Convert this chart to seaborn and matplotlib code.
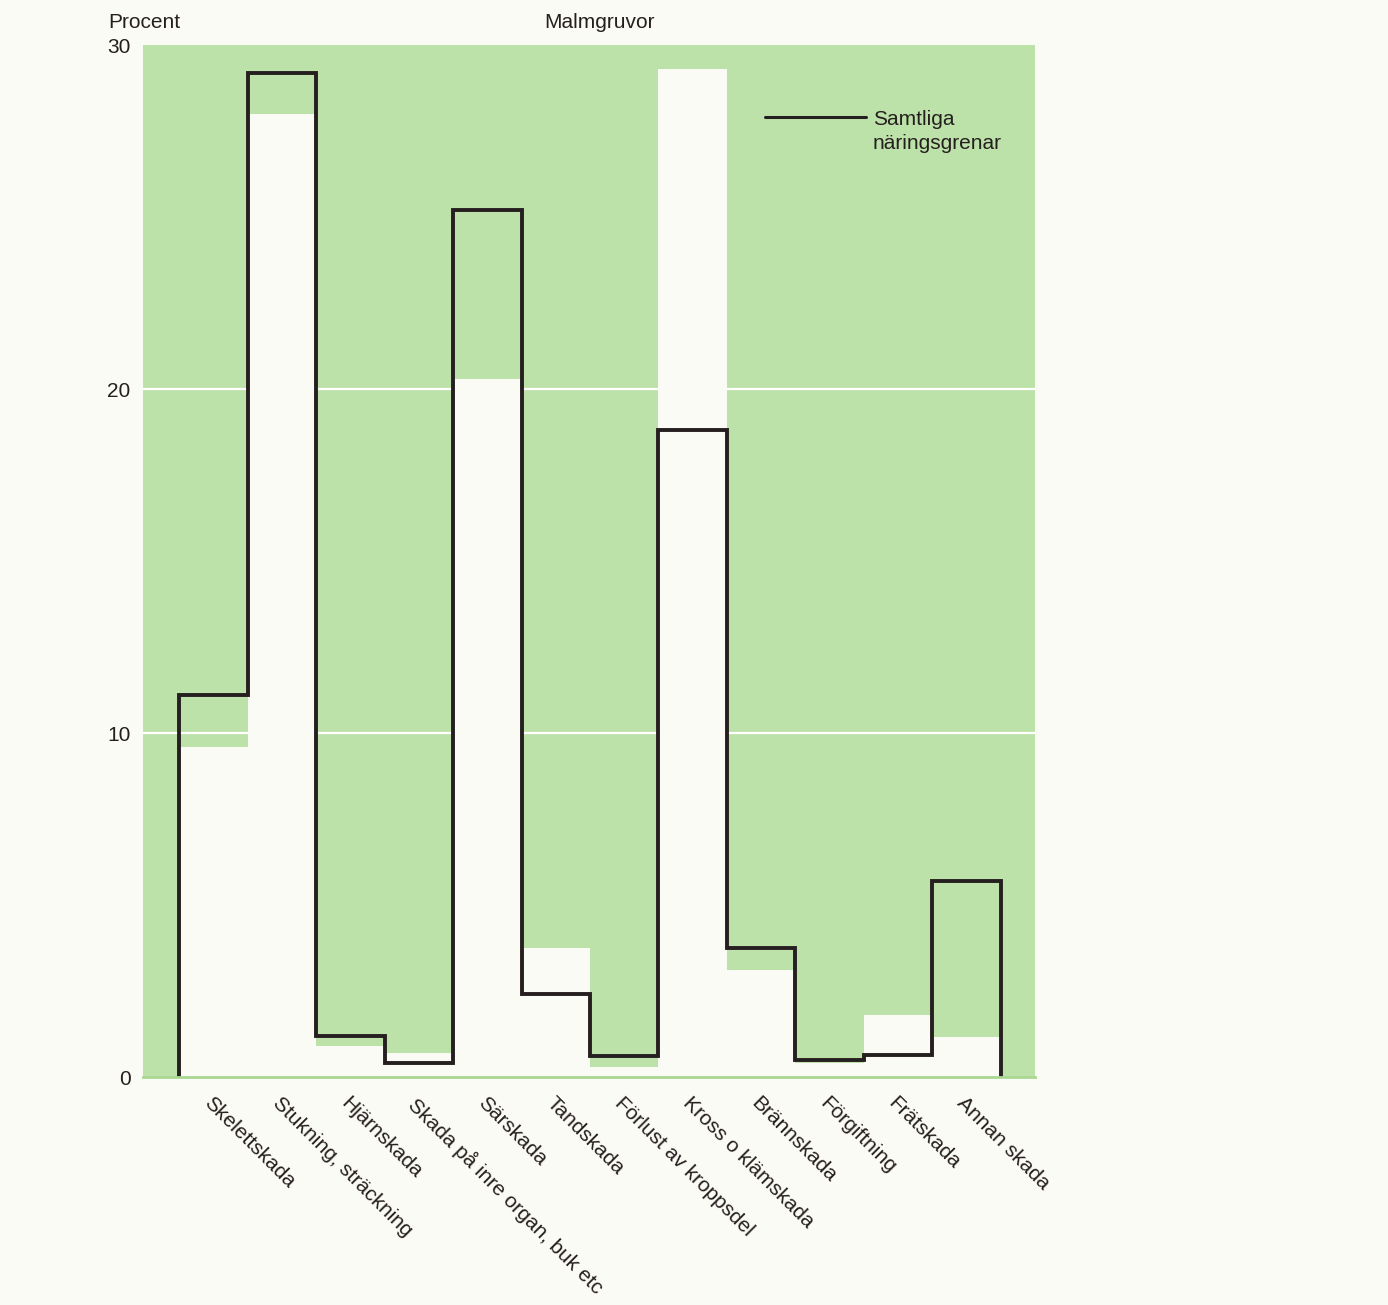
import numpy as np
import pandas as pd
import matplotlib
matplotlib.use('Agg')
import matplotlib.pyplot as plt
import seaborn as sns

# Skadetyp, procent
categories = ['Skelettskada', 'Stukning, sträckning', 'Hjärnskada',
              'Skada på inre organ, buk etc', 'Särskada', 'Tandskada',
              'Förlust av kroppsdel', 'Kross o klämskada', 'Brännskada',
              'Förgiftning', 'Frätskada', 'Annan skada']
malmgruvor = [9.6, 28.0, 0.9, 0.7, 20.3, 3.75, 0.3, 29.3, 3.1, 0.4, 1.8, 1.15]
samtliga = [11.1, 29.2, 1.2, 0.4, 25.2, 2.4, 0.6, 18.8, 3.75, 0.5, 0.65, 5.7]
yticks = [0, 10, 20, 30]

green = '#bde2a9'
paper = '#fbfbf6'
ink = '#261f1f'

sns.set_theme(style='white')
plt.rcParams['font.family'] = ['Liberation Sans', 'DejaVu Sans']

df = pd.DataFrame({'skada': categories, 'procent': malmgruvor})

fig = plt.figure(figsize=(13.88, 13.05), dpi=100, facecolor=paper)
ax = fig.add_axes([0.103, 0.1747, 0.6427, 0.7908])
ax.set_facecolor(green)

sns.barplot(data=df, x='skada', y='procent', color=paper, width=1.0,
            saturation=1, linewidth=0, ax=ax, zorder=2)

# Samtliga näringsgrenar som trappstegslinje
edges = np.arange(len(categories) + 1) - 0.5
ax.stairs(samtliga, edges, baseline=0, color=ink, lw=2.8, zorder=3)

ax.set_xlim(-1.03, len(categories))
ax.set_ylim(0, 30)
ax.set_yticks(yticks)
ax.set_yticklabels([str(t) for t in yticks], fontsize=15, color=ink)
ax.tick_params(axis='y', length=0, pad=9)
for t in yticks[1:-1]:
    ax.axhline(t, color='white', lw=1.6, zorder=1)

ax.set_xticks(range(len(categories)))
ax.set_xticklabels(categories, rotation=-45, ha='left', va='top',
                   rotation_mode='anchor', fontsize=15, color=ink)
ax.tick_params(axis='x', length=0, pad=12)
ax.set_xlabel('')
ax.set_ylabel('')

for side in ['top', 'left', 'right']:
    ax.spines[side].set_visible(False)
ax.spines['bottom'].set_color('#a9d893')
ax.spines['bottom'].set_linewidth(2)
ax.spines['bottom'].set_zorder(4)

# legend
ax.plot([0.697, 0.8105], [0.930, 0.930], transform=ax.transAxes,
        color=ink, lw=2.2, zorder=5)
ax.text(0.818, 0.937, 'Samtliga\nnäringsgrenar', transform=ax.transAxes,
        ha='left', va='top', fontsize=15, color=ink, linespacing=1.35)

fig.text(108 / 1388, 1 - 22 / 1305, 'Procent', ha='left', va='center',
         fontsize=15, color=ink)
fig.text(600 / 1388, 1 - 22 / 1305, 'Malmgruvor', ha='center', va='center',
         fontsize=15, color=ink)

fig.savefig('out.png', dpi=100, facecolor=paper)
